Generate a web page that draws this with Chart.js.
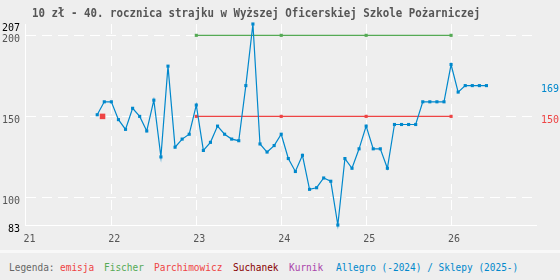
<!DOCTYPE html>
<html>
<head>
<meta charset="utf-8">
<script src="https://cdn.jsdelivr.net/npm/chart.js@4"></script>
<style>
body { margin: 0; background: #eeeeee; width: 560px; height: 280px; overflow: hidden; position: relative; font-family: "DejaVu Sans Mono", monospace; }
#wrap { position: absolute; left: 0; top: 0; width: 560px; height: 250px; }
#title { position: absolute; left: 32px; top: 5px; font-size: 13px; line-height: 15px; font-weight: bold; color: #555; white-space: nowrap; transform: scaleX(0.83); transform-origin: 0 0; }
#band { position: absolute; left: 0; top: 250px; width: 560px; height: 30px; border-top: 3px solid #f8f8f8; box-sizing: border-box; }
.lg { position: absolute; top: 261px; font-size: 11px; line-height: 13px; white-space: nowrap; transform: scaleX(0.86); transform-origin: 0 0; }
</style>
</head>
<body>
<div id="wrap"><canvas id="chart"></canvas></div>
<div id="title">10 zł - 40. rocznica strajku w Wyższej Oficerskiej Szkole Pożarniczej</div>
<div id="band"></div>
<span class="lg" style="left:9px;color:#666">Legenda:</span>
<span class="lg" style="left:60px;color:#ee4444">emisja</span>
<span class="lg" style="left:104px;color:#55aa55">Fischer</span>
<span class="lg" style="left:154px;color:#ee4444">Parchimowicz</span>
<span class="lg" style="left:233px;color:#880000">Suchanek</span>
<span class="lg" style="left:289px;color:#aa44aa">Kurnik</span>
<span class="lg" style="left:336px;color:#0088cc">Allegro (-2024) / Sklepy (2025-)</span>
<script>
// axis ticks
const yearTicks = [21, 22, 23, 24, 25, 26];
const yTicks = [83, 100, 150, 200, 207];
const rightTicks = [169, 150];

// Allegro / Sklepy, monthly from 2021-11
const allegroStart = "2021-11";
const allegroValues = [
  151, 159,
  159, 148, 142, 155, 150, 141, 160, 125, 181, 131, 136, 139,
  157, 129, 134, 144, 139, 136, 135, 169, 207, 133, 128, 132,
  139, 124, 116, 126, 105, 106, 112, 110, 83, 124, 118, 130,
  144, 130, 130, 118, 145, 145, 145, 145, 159, 159, 159, 159,
  182, 165, 169, 169, 169, 169
];

const emisjaDates = ["2021-11-24"];
const emisjaValues = [150];

const fischerDates = ["2023-01", "2024-01", "2025-01", "2026-01"];
const fischerValues = [200, 200, 200, 200];

const parchDates = ["2023-01", "2024-01", "2025-01", "2026-01"];
const parchValues = [150, 150, 150, 150];

const BLUE = "#0088cc", RED = "#ee4444", GREEN = "#55aa55";

// date string -> year (2 digits) as decimal
function toX(s) {
  const p = s.split("-").map(Number);
  const y = p[0] - 2000;
  if (p.length < 3) return y + (p[1] - 1) / 12;
  const start = Date.UTC(p[0], 0, 1);
  const day = (Date.UTC(p[0], p[1] - 1, p[2]) - start) / 86400000;
  return y + day / 365;
}

const [sy, sm] = allegroStart.split("-").map(Number);
const allegroData = allegroValues.map((v, i) => ({ x: (sy - 2000) + (sm - 1 + i) / 12, y: v }));
const pairs = (dates, vals) => dates.map((d, i) => ({ x: toX(d), y: vals[i] }));

const tickFont = { family: "DejaVu Sans Mono", size: 10 };

new Chart(document.getElementById("chart"), {
  type: "line",
  data: {
    datasets: [
      {
        label: "Allegro",
        data: allegroData,
        borderColor: BLUE,
        backgroundColor: BLUE,
        borderWidth: 1.2,
        pointStyle: "rect",
        pointRadius: 2.2,
        pointBorderWidth: 0,
        tension: 0,
        clip: false,
      },
      {
        label: "emisja",
        data: pairs(emisjaDates, emisjaValues),
        showLine: false,
        backgroundColor: RED,
        borderColor: RED,
        pointStyle: "rect",
        pointRadius: 3.9,
        pointBorderWidth: 0,
        clip: false,
      },
      {
        label: "Fischer",
        data: pairs(fischerDates, fischerValues),
        borderColor: GREEN,
        backgroundColor: GREEN,
        borderWidth: 1.3,
        pointStyle: "rect",
        pointRadius: 2.2,
        pointBorderWidth: 0,
        clip: false,
      },
      {
        label: "Parchimowicz",
        data: pairs(parchDates, parchValues),
        borderColor: RED,
        backgroundColor: RED,
        borderWidth: 1.3,
        pointStyle: "rect",
        pointRadius: 2.2,
        pointBorderWidth: 0,
        clip: false,
      },
    ],
  },
  options: {
    responsive: true,
    maintainAspectRatio: false,
    devicePixelRatio: 1,
    animation: false,
    layout: { padding: { top: 24 } },
    plugins: {
      legend: { display: false },
      tooltip: { enabled: false },
    },
    scales: {
      x: {
        type: "linear",
        min: 20.983,
        max: 27,
        afterBuildTicks: (axis) => { axis.ticks = yearTicks.map((v) => ({ value: v })); },
        afterFit: (scale) => { scale.height = 25; },
        ticks: {
          font: tickFont,
          color: "#555",
          padding: 8,
          labelOffset: 3,
          maxRotation: 0,
          callback: (v) => String(v),
        },
        grid: {
          drawTicks: false,
          color: (ctx) => (ctx.tick && ctx.tick.value === 21 ? "rgba(0,0,0,0)" : "#ffffff"),
        },
        border: { color: "#ffffff", width: 1, dash: [10, 6] },
      },
      y: {
        min: 83,
        max: 207,
        afterBuildTicks: (axis) => { axis.ticks = yTicks.map((v) => ({ value: v })); },
        afterFit: (scale) => { scale.width = 25; },
        ticks: {
          font: tickFont,
          padding: 5,
          labelOffset: 4,
          color: (ctx) => (ctx.tick.value === 83 || ctx.tick.value === 207 ? "#000" : "#555"),
        },
        grid: {
          drawTicks: false,
          color: (ctx) => (ctx.tick && (ctx.tick.value === 83 || ctx.tick.value === 207) ? "rgba(0,0,0,0)" : "#ffffff"),
        },
        border: { color: "#ffffff", width: 1, dash: [10, 6] },
      },
      y2: {
        position: "right",
        min: 83,
        max: 207,
        afterBuildTicks: (axis) => { axis.ticks = rightTicks.map((v) => ({ value: v })); },
        afterFit: (scale) => { scale.width = 24; },
        ticks: {
          font: { family: "DejaVu Sans Mono", size: 10 },
          padding: 5,
          labelOffset: 4,
          color: (ctx) => (ctx.tick.value === 169 ? BLUE : RED),
        },
        grid: { display: false, drawTicks: false },
        border: { display: false },
      },
    },
  },
});
</script>
</body>
</html>
